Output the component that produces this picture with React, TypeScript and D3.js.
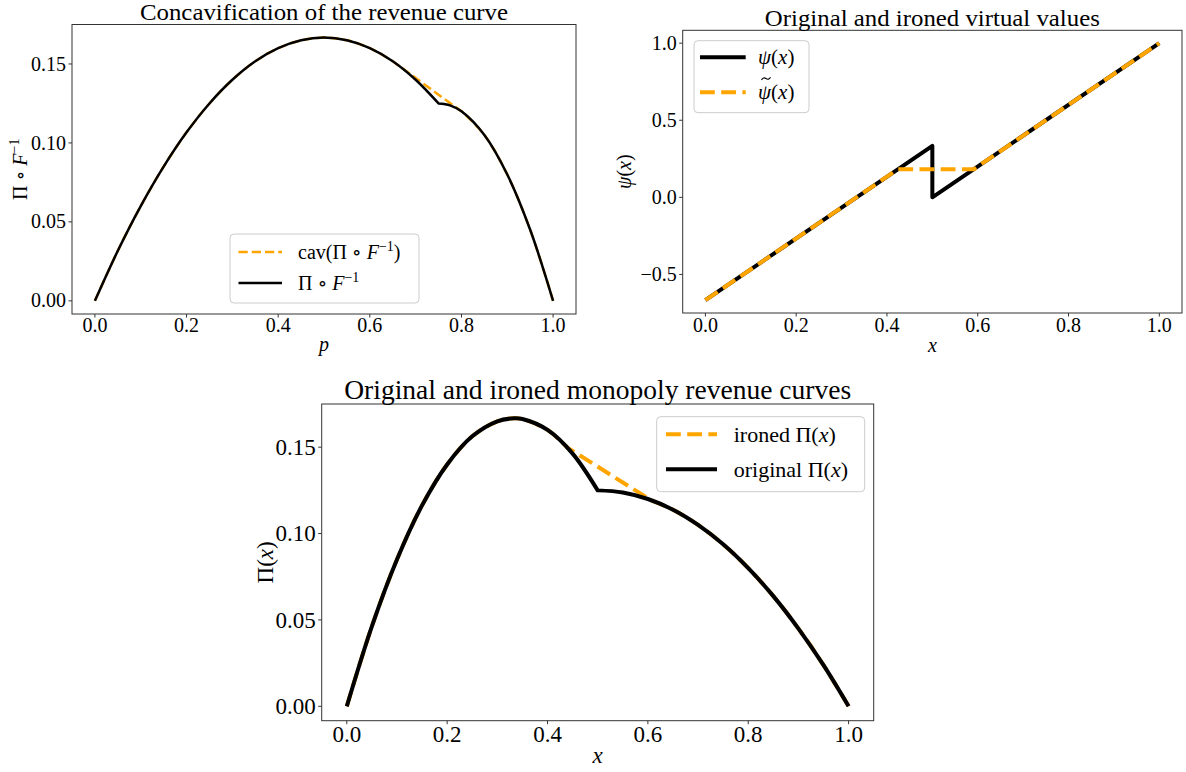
import React from "react";
import * as d3 from "d3";

const FONT = "'Liberation Serif', 'DejaVu Serif', serif";
const ORANGE = "#ffa500";
const SPINE = "#333333";

// ---- top-left: revenue as a function of the quantile p ----
const revQuantLeftP = [0, 0.05, 0.1, 0.15, 0.2, 0.25, 0.3, 0.35, 0.4, 0.45, 0.5, 0.55, 0.6, 0.65, 0.7, 0.75];
const revQuantLeftY = [0, 0.0317, 0.06, 0.085, 0.1067, 0.125, 0.14, 0.1517, 0.16, 0.165, 0.1667, 0.165, 0.16, 0.1517, 0.14, 0.125];
const revQuantRightP = [0.75, 0.775, 0.8, 0.85, 0.9, 0.95, 1.0];
const revQuantRightY = [0.125, 0.1238, 0.12, 0.105, 0.08, 0.045, 0];
// straight piece of the concave hull
const cavChordP = [0.6585, 0.8028];
const cavChordY = [0.1499, 0.1194];

// ---- top-right: virtual values ----
const psiX = [0, 0.5, 0.5, 1.0];
const psiY = [-0.6667, 0.3333, 0, 1.0];
const ironedPsiX = [0, 0.424, 0.591, 1.0];
const ironedPsiY = [-0.6667, 0.182, 0.182, 1.0];

// ---- bottom: monopoly revenue curve ----
const revLeftX = [0, 0.05, 0.1, 0.15, 0.2, 0.25, 0.3, 0.3333, 0.35, 0.4, 0.45, 0.5];
const revLeftY = [0, 0.0463, 0.085, 0.1163, 0.14, 0.1563, 0.165, 0.1667, 0.1663, 0.16, 0.1463, 0.125];
const revRightX = [0.5, 0.55, 0.6, 0.65, 0.7, 0.75, 0.8, 0.85, 0.9, 0.95, 1.0];
const revRightY = [0.125, 0.1238, 0.12, 0.1138, 0.105, 0.0938, 0.08, 0.0638, 0.045, 0.0238, 0];
const ironChordX = [0.439, 0.6056];
const ironChordY = [0.1499, 0.1194];

// ticks
const unitTicks = [0, 0.2, 0.4, 0.6, 0.8, 1.0];
const unitTickLabels = ["0.0", "0.2", "0.4", "0.6", "0.8", "1.0"];
const revTicks = [0, 0.05, 0.1, 0.15];
const revTickLabels = ["0.00", "0.05", "0.10", "0.15"];
const psiTicks = [-0.5, 0, 0.5, 1.0];
const psiTickLabels = ["\u22120.5", "0.0", "0.5", "1.0"];

type Pt = [number, number];
const zip = (xs: number[], ys: number[]): Pt[] => xs.map((x, i) => [x, ys[i]]);

interface Piece {
  pts: Pt[];
  smooth: boolean;
}
interface Series {
  pieces: Piece[];
  color: string;
  width: number;
  dash?: string;
}

const revQuantLeft = zip(revQuantLeftP, revQuantLeftY);
const revQuantRight = zip(revQuantRightP, revQuantRightY);
const cavChord = zip(cavChordP, cavChordY);
const revLeft = zip(revLeftX, revLeftY);
const revRight = zip(revRightX, revRightY);
const ironChord = zip(ironChordX, ironChordY);

// hull = curve up to the chord, the chord, curve after the chord
const hull = (left: Pt[], right: Pt[], chord: Pt[]): Piece[] => [
  { pts: [...left, ...right].filter((d) => d[0] < chord[0][0] - 1e-6).concat([chord[0]]), smooth: true },
  { pts: chord, smooth: false },
  { pts: [chord[1]].concat([...left, ...right].filter((d) => d[0] > chord[1][0] + 0.02)), smooth: true },
];

interface LegendSpec {
  x: number;
  y: number;
  w: number;
  h: number;
  lineX0: number;
  lineX1: number;
  textX: number;
  rows: number[];
  fontSize: number;
  entries: { series: number; label: React.ReactNode; accent?: boolean }[];
}

interface PanelProps {
  box: { l: number; r: number; t: number; b: number };
  yDomain: [number, number];
  yTicks: number[];
  yTickLabels: string[];
  tickSize: number;
  xTickBaseline: number;
  title: string;
  titleSize: number;
  titleWidth: number;
  titleBaseline: number;
  xLabel: React.ReactNode;
  xLabelBaseline: number;
  yLabel: React.ReactNode;
  yLabelX: number;
  labelSize: number;
  series: Series[];
  legend: LegendSpec;
}

const Panel = (p: PanelProps) => {
  const { box } = p;
  const x = d3.scaleLinear().domain([-0.05, 1.05]).range([box.l, box.r]);
  const y = d3.scaleLinear().domain(p.yDomain).range([box.b, box.t]);
  const pathOf = (pieces: Piece[]) =>
    pieces
      .map((pc, i) => {
        const line = d3
          .line<Pt>()
          .x((d) => x(d[0]))
          .y((d) => y(d[1]))
          .curve(pc.smooth ? d3.curveCatmullRom : d3.curveLinear);
        const s = line(pc.pts) || "";
        return i === 0 ? s : s.replace(/^M/, "L");
      })
      .join("");
  const cx = (box.l + box.r) / 2;
  const cy = (box.t + box.b) / 2;
  const lg = p.legend;
  return (
    <g fontFamily={FONT} fill="#000">
      {p.series.map((s, i) => (
        <path
          key={i}
          d={pathOf(s.pieces)}
          fill="none"
          stroke={s.color}
          strokeWidth={s.width}
          strokeDasharray={s.dash}
          strokeLinejoin="round"
        />
      ))}
      <rect x={box.l} y={box.t} width={box.r - box.l} height={box.b - box.t} fill="none" stroke={SPINE} strokeWidth={1} />
      {unitTicks.map((t, i) => (
        <g key={"x" + i}>
          <line x1={x(t)} x2={x(t)} y1={box.b} y2={box.b + 3.5} stroke={SPINE} />
          <text x={x(t)} y={p.xTickBaseline} textAnchor="middle" fontSize={p.tickSize}>
            {unitTickLabels[i]}
          </text>
        </g>
      ))}
      {p.yTicks.map((t, i) => (
        <g key={"y" + i}>
          <line x1={box.l - 3.5} x2={box.l} y1={y(t)} y2={y(t)} stroke={SPINE} />
          <text x={box.l - 6} y={y(t)} dy="0.33em" textAnchor="end" fontSize={p.tickSize}>
            {p.yTickLabels[i]}
          </text>
        </g>
      ))}
      <text
        x={cx}
        y={p.titleBaseline}
        textAnchor="middle"
        fontSize={p.titleSize}
        textLength={p.titleWidth}
        lengthAdjust="spacingAndGlyphs"
      >
        {p.title}
      </text>
      <text x={cx} y={p.xLabelBaseline} textAnchor="middle" fontSize={p.labelSize}>
        {p.xLabel}
      </text>
      <text transform={`translate(${p.yLabelX},${cy}) rotate(-90)`} textAnchor="middle" fontSize={p.labelSize}>
        {p.yLabel}
      </text>
      <rect x={lg.x} y={lg.y} width={lg.w} height={lg.h} rx={4} fill="#fff" fillOpacity={0.8} stroke="#cccccc" />
      {lg.entries.map((e, i) => {
        const s = p.series[e.series];
        const ty = lg.rows[i];
        return (
          <g key={"l" + i}>
            <line
              x1={lg.lineX0}
              x2={lg.lineX1}
              y1={ty}
              y2={ty}
              stroke={s.color}
              strokeWidth={s.width}
              strokeDasharray={s.dash}
            />
            <text x={lg.textX} y={ty} dy="0.33em" fontSize={lg.fontSize}>
              {e.label}
            </text>
            {e.accent && (
              // tilde accent over the first glyph, drawn as a stroke
              <path
                d={`M${lg.textX + 3.5},${ty - 12.5} q2,-3 4.5,-1.2 t4.5,-1.4`}
                fill="none"
                stroke="#000"
                strokeWidth={1.2}
              />
            )}
          </g>
        );
      })}
    </g>
  );
};

const I = ({ children }: { children: React.ReactNode }) => <tspan fontStyle="italic">{children}</tspan>;

const PiFInv = ({ size }: { size: number }) => (
  <>
    <tspan>Π ∘ </tspan>
    <I>F</I>
    <tspan dy={-size * 0.38} fontSize={size * 0.7}>
      −1
    </tspan>
  </>
);

export default function App() {
  return (
    <svg
      width={1186}
      height={772}
      style={{ position: "absolute", left: 0, top: 0, background: "#fff" }}
    >
      <Panel
        box={{ l: 72, r: 576, t: 24.5, b: 314 }}
        yDomain={[-0.00833, 0.175]}
        yTicks={revTicks}
        yTickLabels={revTickLabels}
        tickSize={20}
        xTickBaseline={332}
        title="Concavification of the revenue curve"
        titleSize={24}
        titleWidth={368}
        titleBaseline={20}
        xLabel={<I>p</I>}
        xLabelBaseline={351}
        yLabel={<PiFInv size={20} />}
        yLabelX={27}
        labelSize={20}
        series={[
          { pieces: hull(revQuantLeft, revQuantRight, cavChord), color: ORANGE, width: 2.5, dash: "9.25 4" },
          {
            pieces: [
              { pts: revQuantLeft, smooth: true },
              { pts: revQuantRight, smooth: true },
            ],
            color: "#000",
            width: 2.5,
          },
        ]}
        legend={{
          x: 230,
          y: 234,
          w: 189,
          h: 69,
          lineX0: 238.5,
          lineX1: 282,
          textX: 298,
          rows: [252, 283],
          fontSize: 20,
          entries: [
            {
              series: 0,
              label: (
                <>
                  <tspan>cav(</tspan>
                  <PiFInv size={20} />
                  <tspan dy={20 * 0.38}>)</tspan>
                </>
              ),
            },
            { series: 1, label: <PiFInv size={20} /> },
          ],
        }}
      />
      <Panel
        box={{ l: 682.7, r: 1182, t: 30.3, b: 313 }}
        yDomain={[-0.75, 1.0833]}
        yTicks={psiTicks}
        yTickLabels={psiTickLabels}
        tickSize={20}
        xTickBaseline={332}
        title="Original and ironed virtual values"
        titleSize={24}
        titleWidth={335}
        titleBaseline={26}
        xLabel={<I>x</I>}
        xLabelBaseline={352}
        yLabel={
          <>
            <I>ψ</I>(<I>x</I>)
          </>
        }
        yLabelX={631}
        labelSize={20}
        series={[
          { pieces: [{ pts: zip(psiX, psiY), smooth: false }], color: "#000", width: 4 },
          { pieces: [{ pts: zip(ironedPsiX, ironedPsiY), smooth: false }], color: ORANGE, width: 4, dash: "14.8 6.4" },
        ]}
        legend={{
          x: 694,
          y: 40.7,
          w: 115,
          h: 72,
          lineX0: 700,
          lineX1: 745.7,
          textX: 758,
          rows: [57.3, 92.3],
          fontSize: 21,
          entries: [
            {
              series: 0,
              label: (
                <>
                  <I>ψ</I>(<I>x</I>)
                </>
              ),
            },
            {
              series: 1,
              accent: true,
              label: (
                <>
                  <I>ψ</I>(<I>x</I>)
                </>
              ),
            },
          ],
        }}
      />
      <Panel
        box={{ l: 321.7, r: 873.7, t: 404, b: 720.7 }}
        yDomain={[-0.00833, 0.175]}
        yTicks={revTicks}
        yTickLabels={revTickLabels}
        tickSize={23}
        xTickBaseline={742}
        title="Original and ironed monopoly revenue curves"
        titleSize={27}
        titleWidth={507}
        titleBaseline={399}
        xLabel={<I>x</I>}
        xLabelBaseline={763}
        yLabel={
          <>
            Π(<I>x</I>)
          </>
        }
        yLabelX={273}
        labelSize={23}
        series={[
          { pieces: hull(revLeft, revRight, ironChord), color: ORANGE, width: 4, dash: "14.8 6.4" },
          {
            pieces: [
              { pts: revLeft, smooth: true },
              { pts: revRight, smooth: true },
            ],
            color: "#000",
            width: 4,
          },
        ]}
        legend={{
          x: 656.7,
          y: 416.7,
          w: 208,
          h: 75,
          lineX0: 666,
          lineX1: 717,
          textX: 733.75,
          rows: [434.3, 469.3],
          fontSize: 22,
          entries: [
            {
              series: 0,
              label: (
                <>
                  ironed Π(<I>x</I>)
                </>
              ),
            },
            {
              series: 1,
              label: (
                <>
                  original Π(<I>x</I>)
                </>
              ),
            },
          ],
        }}
      />
    </svg>
  );
}
